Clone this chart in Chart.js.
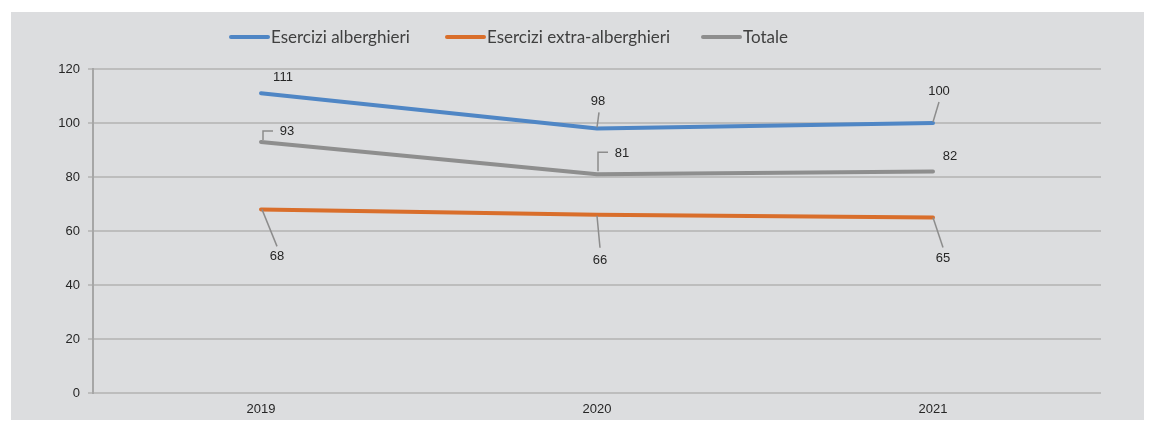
<!DOCTYPE html>
<html>
<head>
<meta charset="utf-8">
<script src="https://cdn.jsdelivr.net/npm/chart.js@4.4.1/dist/chart.umd.min.js"></script>
<style>
  html, body { margin: 0; padding: 0; background: #ffffff; }
  #wrap { width: 1149px; height: 421px; }
</style>
</head>
<body>
<div id="wrap"><canvas id="grafico" width="1149" height="421"></canvas></div>
<script>
// dati
const anni = ['2019', '2020', '2021'];
const alberghieri = [111, 98, 100];
const extraAlberghieri = [68, 66, 65];
const totale = [93, 81, 82];
const yTicks = [0, 20, 40, 60, 80, 100, 120];

const COLORI = {
  blu: '#4f86c5',
  arancio: '#d96e2b',
  grigio: '#8e8e8e',
  sfondo: '#dcdddf',
  griglia: '#bdbdbd',
  testo: '#262626'
};

// posizione etichette (dx, dy rispetto al punto) e linee guida
const etichette = [
  [ { l: [22, -16] }, { l: [1, -27], g: [[0, -1], [2, -16]] }, { l: [6, -32], g: [[0, -1], [6, -21]] } ],
  [ { l: [16, 47], g: [[1, 0], [16, 37]] }, { l: [3, 46], g: [[0, 1], [3, 33]] }, { l: [10, 41], g: [[0, 0], [10, 30]] } ],
  [ { l: [26, -10], g: [[2, -2], [2, -11], [12, -11]] }, { l: [25, -21], g: [[1, -3], [1, -22], [11, -22]] }, { l: [17, -15] } ]
];

// sfondo grigio del riquadro
const sfondoPlugin = {
  id: 'sfondo',
  beforeDraw(chart) {
    const ctx = chart.ctx;
    ctx.save();
    ctx.fillStyle = COLORI.sfondo;
    ctx.fillRect(11, 12, 1133, 408);
    ctx.restore();
  }
};

// legenda disegnata a mano (posizione come nell'originale)
const legendaPlugin = {
  id: 'legenda',
  afterDraw(chart) {
    const ctx = chart.ctx;
    const xs = [229, 445, 701];
    ctx.save();
    ctx.font = '17px Lato, "Open Sans", sans-serif';
    ctx.textBaseline = 'middle';
    chart.data.datasets.forEach((ds, i) => {
      const x = xs[i], y = 37;
      ctx.strokeStyle = ds.borderColor;
      ctx.lineWidth = 4;
      ctx.lineCap = 'round';
      ctx.beginPath();
      ctx.moveTo(x + 2, y);
      ctx.lineTo(x + 39, y);
      ctx.stroke();
      ctx.fillStyle = '#404040';
      ctx.fillText(ds.label, x + 42, y + 1);
    });
    ctx.restore();
  }
};

// etichette dati con linee guida
const etichettePlugin = {
  id: 'etichette',
  afterDatasetsDraw(chart) {
    const ctx = chart.ctx;
    ctx.save();
    ctx.font = '13px "Liberation Sans", Arial, sans-serif';
    ctx.textAlign = 'center';
    ctx.textBaseline = 'middle';
    chart.data.datasets.forEach((ds, i) => {
      const meta = chart.getDatasetMeta(i);
      meta.data.forEach((pt, j) => {
        const e = etichette[i][j];
        if (e.g) {
          ctx.strokeStyle = '#8c8c8c';
          ctx.lineWidth = 1.5;
          ctx.beginPath();
          e.g.forEach((p, k) => {
            if (k === 0) ctx.moveTo(pt.x + p[0], pt.y + p[1]);
            else ctx.lineTo(pt.x + p[0], pt.y + p[1]);
          });
          ctx.stroke();
        }
        ctx.fillStyle = COLORI.testo;
        ctx.fillText(String(ds.data[j]), pt.x + e.l[0], pt.y + e.l[1]);
      });
    });
    ctx.restore();
  }
};

const serie = (label, data, colore) => ({
  label,
  data,
  borderColor: colore,
  backgroundColor: colore,
  borderWidth: 4,
  borderCapStyle: 'round',
  borderJoinStyle: 'round',
  pointRadius: 0,
  pointHoverRadius: 0,
  tension: 0
});

new Chart(document.getElementById('grafico'), {
  type: 'line',
  data: {
    labels: anni,
    datasets: [
      serie('Esercizi alberghieri', alberghieri, COLORI.blu),
      serie('Esercizi extra-alberghieri', extraAlberghieri, COLORI.arancio),
      serie('Totale', totale, COLORI.grigio)
    ]
  },
  options: {
    responsive: false,
    animation: false,
    events: [],
    layout: { padding: { top: 69, right: 48, bottom: 0, left: 0 } },
    plugins: {
      legend: { display: false },
      tooltip: { enabled: false }
    },
    scales: {
      x: {
        offset: true,
        grid: { display: false, drawTicks: false },
        border: { display: false },
        ticks: {
          color: COLORI.testo,
          font: { family: '"Liberation Sans", Arial, sans-serif', size: 13 },
          padding: 9
        },
        afterFit(scale) { scale.height = 28; }
      },
      y: {
        min: 0,
        max: 120,
        afterBuildTicks(scale) { scale.ticks = yTicks.map(v => ({ value: v })); },
        grid: { color: COLORI.griglia, lineWidth: 2, tickLength: 5 },
        border: { color: '#a6a6a6', width: 2 },
        ticks: {
          color: COLORI.testo,
          font: { family: '"Liberation Sans", Arial, sans-serif', size: 13 },
          padding: 8
        },
        afterFit(scale) { scale.width = 93; }
      }
    }
  },
  plugins: [sfondoPlugin, legendaPlugin, etichettePlugin]
});
</script>
</body>
</html>
